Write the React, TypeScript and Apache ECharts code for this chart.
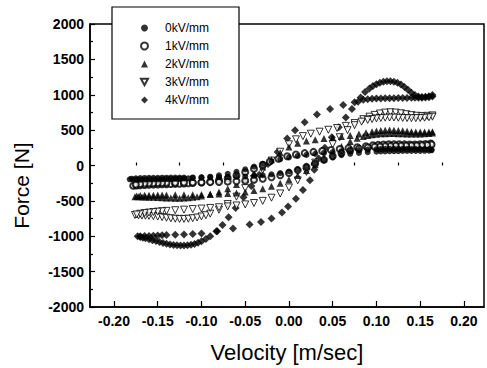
import React, { useEffect, useRef } from "react";
import * as echarts from "echarts";

const seriesNames = ["0kV/mm", "1kV/mm", "2kV/mm", "3kV/mm", "4kV/mm"];

const xMajorTicks = [-0.2, -0.15, -0.1, -0.05, 0, 0.05, 0.1, 0.15, 0.2];
const xMinorTicks = [-0.175, -0.125, -0.075, -0.025, 0.025, 0.075, 0.125, 0.175];

// 0 kV/mm : [velocity, force]
const loop0kV: number[][] = [
  [-0.182, -195], [-0.178, -198], [-0.174, -200], [-0.17, -200], [-0.165, -198], [-0.16, -196], [-0.155, -195],
  [-0.15, -195], [-0.145, -194], [-0.14, -192], [-0.135, -190], [-0.13, -188], [-0.125, -186], [-0.12, -184],
  [-0.115, -180], [-0.11, -176], [-0.1, -168], [-0.09, -158], [-0.08, -140], [-0.07, -118], [-0.06, -90],
  [-0.05, -55], [-0.04, -15], [-0.03, 25], [-0.02, 60], [-0.01, 90], [0.0, 115], [0.01, 135], [0.02, 150],
  [0.03, 165], [0.04, 178], [0.05, 190], [0.06, 200], [0.07, 210], [0.08, 218], [0.09, 225], [0.1, 230],
  [0.105, 232], [0.11, 234], [0.115, 235], [0.12, 236], [0.125, 236], [0.13, 235], [0.135, 234], [0.14, 233],
  [0.145, 232], [0.15, 232], [0.155, 232], [0.16, 230], [0.163, 225],
  [0.163, 215], [0.16, 210], [0.155, 208], [0.15, 207], [0.145, 207], [0.14, 206], [0.135, 206], [0.13, 205],
  [0.125, 204], [0.12, 203], [0.115, 202], [0.11, 200], [0.105, 198], [0.1, 195], [0.09, 188], [0.08, 178],
  [0.07, 165], [0.06, 145], [0.05, 115], [0.04, 75], [0.03, 30], [0.02, -15], [0.01, -55], [0.0, -85],
  [-0.01, -108], [-0.02, -125], [-0.03, -138], [-0.04, -148], [-0.05, -155], [-0.06, -160], [-0.07, -163],
  [-0.08, -165], [-0.09, -167], [-0.1, -168], [-0.11, -169], [-0.12, -170], [-0.125, -170], [-0.13, -171],
  [-0.135, -171], [-0.14, -172], [-0.145, -172], [-0.15, -173], [-0.155, -174], [-0.16, -175], [-0.165, -176],
  [-0.17, -178], [-0.175, -181], [-0.18, -186],
];

// 1 kV/mm
const loop1kV: number[][] = [
  [-0.178, -285], [-0.174, -282], [-0.17, -278], [-0.165, -275], [-0.16, -272], [-0.155, -270], [-0.15, -268],
  [-0.145, -266], [-0.14, -264], [-0.135, -262], [-0.13, -260], [-0.125, -258], [-0.12, -255], [-0.115, -252],
  [-0.11, -248], [-0.1, -240], [-0.09, -228], [-0.08, -208], [-0.07, -180], [-0.06, -140], [-0.05, -95],
  [-0.04, -45], [-0.03, 10], [-0.022, 55], [-0.012, 95], [-0.002, 130], [0.008, 155], [0.018, 175],
  [0.028, 192], [0.038, 205], [0.048, 218], [0.058, 232], [0.068, 245], [0.078, 258], [0.088, 272],
  [0.096, 285], [0.102, 292], [0.108, 297], [0.114, 300], [0.12, 301], [0.126, 300], [0.132, 298],
  [0.138, 296], [0.144, 297], [0.15, 300], [0.156, 305], [0.162, 310],
  [0.163, 298], [0.158, 290], [0.152, 285], [0.146, 283], [0.14, 282], [0.134, 281], [0.128, 280],
  [0.122, 279], [0.116, 277], [0.11, 274], [0.104, 270], [0.098, 265], [0.09, 255], [0.08, 238], [0.07, 212],
  [0.06, 175], [0.05, 130], [0.04, 80], [0.03, 30], [0.02, -20], [0.01, -65], [0.0, -105], [-0.01, -138],
  [-0.02, -165], [-0.03, -188], [-0.04, -203], [-0.05, -215], [-0.06, -223], [-0.07, -228], [-0.08, -232],
  [-0.09, -235], [-0.1, -237], [-0.11, -239], [-0.12, -241], [-0.13, -243], [-0.14, -245], [-0.145, -246],
  [-0.15, -248], [-0.155, -250], [-0.16, -252], [-0.165, -255], [-0.17, -260], [-0.175, -268],
];

// 2 kV/mm
const loop2kV: number[][] = [
  [-0.176, -440], [-0.172, -443], [-0.168, -445], [-0.164, -446], [-0.16, -448], [-0.155, -450], [-0.15, -452],
  [-0.145, -455], [-0.14, -458], [-0.135, -460], [-0.13, -462], [-0.125, -462], [-0.12, -460], [-0.115, -456],
  [-0.11, -450], [-0.105, -442], [-0.1, -432], [-0.09, -408], [-0.08, -375], [-0.07, -330], [-0.06, -270],
  [-0.05, -195], [-0.04, -110], [-0.03, -20], [-0.02, 80], [-0.01, 180], [0.0, 260], [0.01, 315], [0.02, 345],
  [0.03, 365], [0.04, 380], [0.05, 395], [0.06, 410], [0.07, 425], [0.08, 445], [0.088, 462], [0.095, 478],
  [0.1, 488], [0.105, 495], [0.11, 500], [0.115, 502], [0.12, 500], [0.125, 496], [0.13, 490], [0.135, 484],
  [0.14, 478], [0.145, 474], [0.15, 472], [0.155, 472], [0.16, 474], [0.164, 476],
  [0.164, 458], [0.16, 452], [0.155, 448], [0.15, 446], [0.145, 445], [0.14, 445], [0.135, 446], [0.13, 448],
  [0.125, 450], [0.12, 452], [0.115, 452], [0.11, 450], [0.105, 447], [0.1, 442], [0.095, 435], [0.09, 425],
  [0.085, 410], [0.078, 385], [0.07, 340], [0.06, 270], [0.05, 185], [0.04, 95], [0.03, 10], [0.02, -70],
  [0.01, -140], [0.0, -200], [-0.01, -250], [-0.02, -292], [-0.03, -328], [-0.04, -355], [-0.05, -375],
  [-0.06, -388], [-0.07, -397], [-0.08, -403], [-0.09, -407], [-0.1, -410], [-0.11, -412], [-0.12, -414],
  [-0.13, -415], [-0.14, -416], [-0.145, -417], [-0.15, -418], [-0.155, -419], [-0.16, -420], [-0.165, -422],
  [-0.17, -425], [-0.174, -430],
];

// 3 kV/mm
const loop3kV: number[][] = [
  [-0.176, -700], [-0.172, -705], [-0.168, -708], [-0.164, -710], [-0.16, -712], [-0.155, -716], [-0.15, -722],
  [-0.145, -730], [-0.14, -738], [-0.135, -746], [-0.13, -752], [-0.125, -755], [-0.12, -755], [-0.115, -752],
  [-0.11, -745], [-0.105, -735], [-0.1, -720], [-0.095, -702], [-0.09, -680], [-0.08, -625], [-0.07, -545],
  [-0.06, -440], [-0.05, -320], [-0.04, -190], [-0.03, -60], [-0.02, 70], [-0.01, 195], [0.0, 300],
  [0.008, 370], [0.016, 415], [0.025, 450], [0.035, 478], [0.045, 505], [0.055, 530], [0.065, 560],
  [0.075, 600], [0.085, 655], [0.092, 690], [0.098, 715], [0.104, 735], [0.11, 748], [0.116, 752],
  [0.122, 748], [0.128, 738], [0.134, 725], [0.14, 712], [0.146, 703], [0.152, 700], [0.158, 702], [0.164, 708],
  [0.164, 690], [0.16, 682], [0.155, 676], [0.15, 672], [0.145, 670], [0.14, 669], [0.135, 670], [0.13, 672],
  [0.125, 675], [0.12, 678], [0.115, 678], [0.11, 676], [0.105, 672], [0.1, 666], [0.095, 657], [0.09, 645],
  [0.083, 620], [0.075, 570], [0.067, 500], [0.058, 400], [0.05, 300], [0.04, 170], [0.03, 40], [0.02, -90],
  [0.01, -210], [0.0, -310], [-0.01, -395], [-0.02, -455], [-0.03, -500], [-0.04, -530], [-0.05, -550],
  [-0.06, -565], [-0.07, -578], [-0.08, -590], [-0.09, -600], [-0.1, -608], [-0.11, -616], [-0.12, -624],
  [-0.13, -632], [-0.14, -641], [-0.145, -646], [-0.15, -652], [-0.155, -658], [-0.16, -665], [-0.165, -672],
  [-0.17, -682], [-0.174, -692],
];

// 4 kV/mm
const loop4kV: number[][] = [
  [-0.173, -1000], [-0.17, -1010], [-0.167, -1020], [-0.164, -1030], [-0.16, -1042], [-0.156, -1055],
  [-0.152, -1068], [-0.148, -1082], [-0.144, -1095], [-0.14, -1106], [-0.136, -1115], [-0.132, -1122],
  [-0.128, -1127], [-0.124, -1130], [-0.12, -1130], [-0.116, -1127], [-0.112, -1120], [-0.108, -1108],
  [-0.104, -1092], [-0.1, -1072], [-0.095, -1040], [-0.09, -1000], [-0.083, -930], [-0.076, -840],
  [-0.069, -730], [-0.061, -600], [-0.052, -450], [-0.043, -290], [-0.034, -130], [-0.024, 20],
  [-0.013, 190], [-0.002, 380], [0.007, 500], [0.018, 610], [0.032, 720], [0.047, 800], [0.062, 855],
  [0.075, 895], [0.082, 960], [0.087, 1040], [0.092, 1090], [0.096, 1125], [0.1, 1150], [0.104, 1170],
  [0.108, 1185], [0.112, 1192], [0.116, 1192], [0.12, 1185], [0.124, 1170], [0.128, 1145], [0.132, 1110],
  [0.136, 1070], [0.14, 1030], [0.144, 995], [0.148, 975], [0.152, 968], [0.156, 970], [0.16, 980], [0.164, 995],
  [0.164, 975], [0.16, 965], [0.156, 960], [0.152, 958], [0.148, 957], [0.144, 957], [0.14, 956], [0.135, 955],
  [0.13, 954], [0.125, 953], [0.12, 952], [0.115, 951], [0.11, 950], [0.105, 948], [0.1, 946], [0.095, 943],
  [0.09, 938], [0.085, 928], [0.079, 900], [0.072, 800], [0.065, 680], [0.057, 540], [0.049, 400],
  [0.041, 250], [0.034, 100], [0.029, -60], [0.024, -210], [0.016, -345], [0.008, -470], [-0.001, -580],
  [-0.008, -665], [-0.02, -750], [-0.032, -800], [-0.045, -833], [-0.064, -889], [-0.082, -931],
  [-0.1, -962], [-0.11, -968], [-0.12, -974], [-0.13, -979], [-0.14, -984], [-0.145, -987], [-0.15, -990],
  [-0.155, -993], [-0.16, -996], [-0.165, -998], [-0.17, -1000],
];

const FONT = "'Liberation Sans', Arial, Helvetica, sans-serif";

export default function App() {
  const ref = useRef<HTMLDivElement>(null);
  useEffect(() => {
    if (!ref.current) return;
    const chart = echarts.init(ref.current, undefined, { renderer: "svg" });
    const xMin = -0.2274;
    const xMax = 0.2229;
    const mk = (name: string, data: number[][], symbol: string, size: number, itemStyle: any) => ({
      name,
      type: "scatter",
      data,
      symbol,
      symbolSize: size,
      itemStyle,
      xAxisIndex: 0,
      yAxisIndex: 0,
    });
    chart.setOption({
      animation: false,
      backgroundColor: "#fff",
      textStyle: { fontFamily: FONT },
      grid: {
        left: 90,
        right: 3,
        top: 24,
        bottom: 56,
        show: true,
        borderColor: "#000",
        borderWidth: 1.5,
      },
      legend: {
        orient: "vertical",
        left: 112,
        top: 7,
        padding: [15, 30, 13, 28],
        itemWidth: 7,
        itemHeight: 7,
        itemGap: 6,
        selectedMode: false,
        backgroundColor: "#fff",
        borderColor: "#000",
        borderWidth: 1.2,
        borderRadius: 0,
        z: 10,
        textStyle: { fontSize: 12, color: "#000", fontFamily: FONT, padding: [0, 0, 0, 12] },
        data: seriesNames,
      },
      xAxis: [
        {
          type: "value",
          min: xMin,
          max: xMax,
          name: "Velocity [m/sec]",
          nameLocation: "middle",
          nameGap: 34,
          nameTextStyle: { fontSize: 22, color: "#000", fontFamily: FONT },
          axisLine: { show: true, onZero: false, lineStyle: { color: "#000", width: 1.5 } },
          axisTick: { show: true, inside: true, length: 6, customValues: xMajorTicks, lineStyle: { color: "#000", width: 1.2 } },
          axisLabel: {
            customValues: xMajorTicks,
            formatter: (v: number) => v.toFixed(2),
            fontSize: 14,
            fontWeight: "bold",
            color: "#000",
            margin: 7,
            fontFamily: FONT,
          },
          splitLine: { show: false },
        },
        {
          type: "value",
          gridIndex: 0,
          position: "bottom",
          min: xMin,
          max: xMax,
          axisLine: { show: false },
          axisTick: { show: true, inside: true, length: 3, customValues: xMinorTicks, lineStyle: { color: "#000", width: 1.2 } },
          axisLabel: { show: false },
          splitLine: { show: false },
        },
      ],
      yAxis: {
        type: "value",
        min: -2000,
        max: 2000,
        interval: 500,
        name: "Force [N]",
        nameLocation: "middle",
        nameGap: 58,
        nameTextStyle: { fontSize: 21, color: "#000", fontFamily: FONT, padding: [0, 40, 0, 0] },
        axisLine: { show: true, onZero: false, lineStyle: { color: "#000", width: 1.5 } },
        axisTick: { show: true, inside: true, length: 5, lineStyle: { color: "#000", width: 1.2 } },
        minorTick: { show: true, splitNumber: 2, length: 3, lineStyle: { color: "#000", width: 1.2 } },
        axisLabel: {
          formatter: (v: number) => String(v),
          fontSize: 14,
          fontWeight: "bold",
          color: "#000",
          margin: 6,
          fontFamily: FONT,
        },
        splitLine: { show: false },
        minorSplitLine: { show: false },
      },
      series: [
        mk(seriesNames[4], loop4kV, "diamond", 8, { color: "#000" }),
        mk(seriesNames[3], loop3kV, "path://M0,0L10,0L5,9Z", 7, { color: "#fff", borderColor: "#000", borderWidth: 1 }),
        mk(seriesNames[2], loop2kV, "triangle", 7, { color: "#000" }),
        mk(seriesNames[1], loop1kV, "emptyCircle", 6, { color: "#000", borderWidth: 1 }),
        mk(seriesNames[0], loop0kV, "circle", 6, { color: "#000" }),
      ],
    });
    return () => chart.dispose();
  }, []);
  return <div ref={ref} style={{ width: 487, height: 368, position: "absolute", left: 0, top: 0 }} />;
}
